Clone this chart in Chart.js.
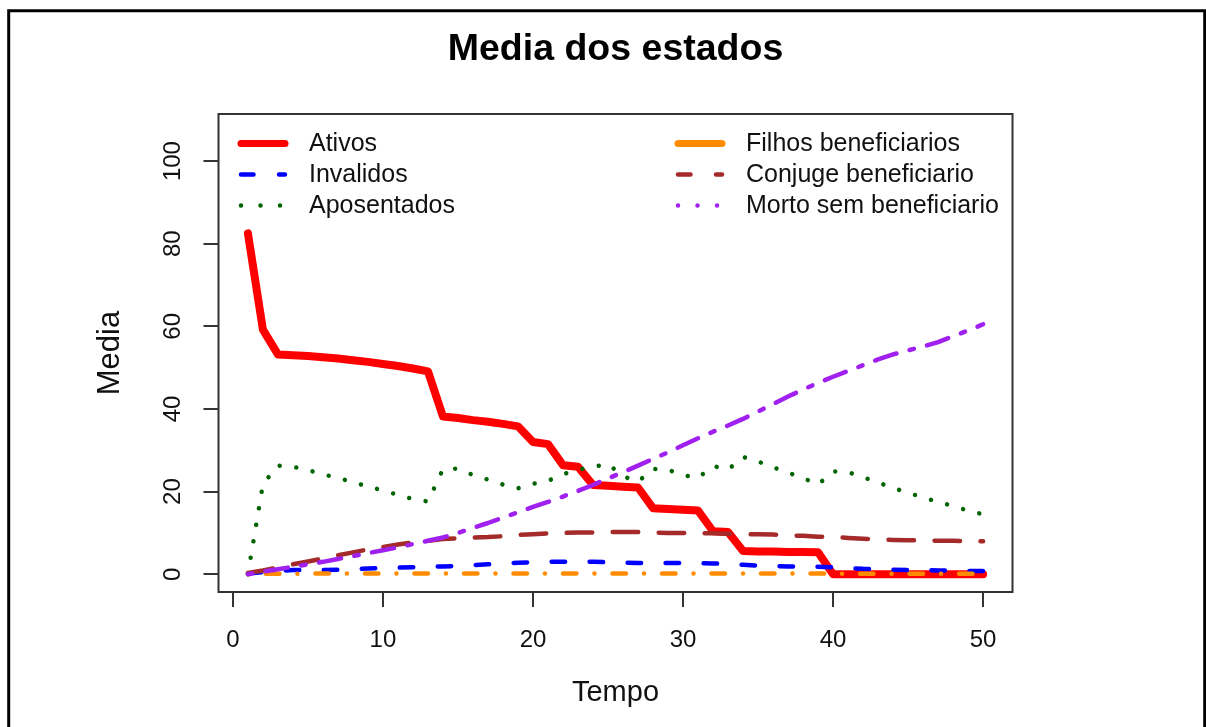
<!DOCTYPE html>
<html>
<head>
<meta charset="utf-8">
<script src="https://cdn.jsdelivr.net/npm/chart.js@4.4.1/dist/chart.umd.min.js"></script>
<style>
html,body{margin:0;padding:0;background:#fff;}
canvas{display:block;}
</style>
</head>
<body>
<canvas id="c" width="1206" height="727"></canvas>
<script>
// ---- data ----
const tempo = [1,2,3,4,5,6,7,8,9,10,11,12,13,14,15,16,17,18,19,20,21,22,23,24,25,26,27,28,29,30,31,32,33,34,35,36,37,38,39,40,41,42,43,44,45,46,47,48,49,50];
const ativos = [82.5,59.2,53.2,53.0,52.8,52.5,52.2,51.8,51.4,50.9,50.4,49.8,49.1,38.2,37.8,37.3,36.9,36.4,35.8,32.0,31.5,26.4,26.0,21.6,21.4,21.2,21.0,16.0,15.8,15.6,15.4,10.4,10.2,5.6,5.5,5.5,5.4,5.4,5.3,0,0,0,0,0,0,0,0,0,0,0];
const invalidos = [0.2,0.5,0.8,1.0,1.0,1.0,1.1,1.2,1.4,1.5,1.6,1.7,1.8,1.9,2.0,2.2,2.4,2.6,2.8,2.9,3.0,3.0,3.0,3.0,2.9,2.8,2.7,2.7,2.7,2.7,2.7,2.6,2.5,2.3,2.1,2.0,1.9,1.8,1.8,1.7,1.5,1.3,1.2,1.1,1.0,1.0,0.9,0.9,0.8,0.8];
const aposentados = [0.0,21.8,26.3,26.0,25.2,24.2,23.3,22.3,21.2,20.3,19.2,18.2,17.6,25.4,25.6,24.0,22.9,21.7,20.8,21.9,22.6,24.2,25.3,26.0,26.7,23.7,22.4,25.5,25.3,24.0,23.3,26.2,25.3,28.4,27.3,25.9,24.6,23.3,21.7,24.9,24.7,23.5,22.2,20.9,19.7,18.6,17.5,16.5,15.4,14.5];
const filhos = [0.0,0.1,0.1,0.1,0.2,0.2,0.2,0.2,0.2,0.2,0.2,0.2,0.2,0.2,0.2,0.2,0.2,0.2,0.2,0.2,0.2,0.2,0.2,0.2,0.2,0.2,0.2,0.2,0.2,0.2,0.2,0.2,0.2,0.2,0.2,0.2,0.2,0.2,0.2,0.1,0.1,0.1,0.1,0.1,0.1,0.1,0.1,0.1,0.1,0.1];
const conjuge = [0.3,0.9,1.6,2.4,3.1,3.8,4.6,5.3,6.0,6.6,7.2,7.7,8.1,8.5,8.7,8.9,9.0,9.2,9.5,9.7,9.9,10.0,10.1,10.1,10.2,10.2,10.2,10.1,10.0,10.0,9.9,9.9,9.8,9.7,9.7,9.6,9.4,9.3,9.1,9.0,8.8,8.6,8.4,8.3,8.2,8.2,8.1,8.1,8.0,8.0];
const morto = [0.0,0.6,1.2,1.8,2.4,3.0,3.7,4.4,5.1,5.8,6.5,7.3,8.1,8.9,10.0,11.2,12.4,13.7,15.0,16.3,17.5,18.8,20.2,21.6,23.2,24.7,26.3,27.9,29.5,31.2,32.9,34.5,36.0,37.6,39.4,41.2,43.0,44.7,46.3,47.8,49.2,50.6,52.0,53.2,54.2,55.1,56.2,57.6,59.0,60.5];
const seriesNames = ["Ativos","Invalidos","Aposentados","Filhos beneficiarios","Conjuge beneficiario","Morto sem beneficiario"];
const xTicks = [0,10,20,30,40,50];
const yTicks = [0,20,40,60,80,100];
const chartTitle = "Media dos estados";
const xTitle = "Tempo";
const yTitle = "Media";

// ---- styles ----
const FONT = "'Liberation Sans', Arial, Helvetica, sans-serif";
const seriesValues = [ativos, invalidos, aposentados, filhos, conjuge, morto];
const seriesStyle = [
  {color:'#FF0000', width:8,   dash:[]},
  {color:'#0000FF', width:4.5, dash:[13.5,24.5]},
  {color:'#006400', width:4.5, dash:[0.01,16.7]},
  {color:'#FF8C00', width:4.5, dash:[0.01,18,13.5,18]},
  {color:'#A52A2A', width:4.5, dash:[25.5,20.5]},
  {color:'#A020F0', width:4.5, dash:[4.5,13.5,22.5,13.5]}
];
// legend line types recycle solid / dashed / dotted as in the original
const legendStyle = [
  {width:7,   dash:[]},
  {width:4.5, dash:[12.5,25.5]},
  {width:4.5, dash:[0.01,19.5]}
];

const datasets = seriesNames.map((name, i) => ({
  label: name,
  data: tempo.map((t, k) => ({x: t, y: seriesValues[i][k]})),
  borderColor: seriesStyle[i].color,
  backgroundColor: seriesStyle[i].color,
  borderWidth: seriesStyle[i].width,
  borderDash: seriesStyle[i].dash,
  borderCapStyle: 'round',
  borderJoinStyle: 'round',
  pointRadius: 0,
  tension: 0,
  fill: false,
  order: seriesNames.length - i
}));

const framePlugin = {
  id: 'frame',
  beforeDraw(chart) {
    const ctx = chart.ctx;
    ctx.save();
    ctx.fillStyle = '#fff';
    ctx.fillRect(0, 0, chart.width, chart.height);
    ctx.strokeStyle = '#000';
    ctx.lineWidth = 3;
    ctx.beginPath();
    ctx.moveTo(8.7, 760);
    ctx.lineTo(8.7, 10.7);
    ctx.lineTo(1204.7, 10.7);
    ctx.lineTo(1204.7, 760);
    ctx.stroke();
    ctx.restore();
  },
  afterDatasetsDraw(chart) {
    const a = chart.chartArea, ctx = chart.ctx;
    ctx.save();
    ctx.strokeStyle = '#333';
    ctx.lineWidth = 2;
    ctx.strokeRect(a.left, a.top, a.right - a.left, a.bottom - a.top);
    ctx.restore();
  }
};

const legendPlugin = {
  id: 'rlegend',
  afterDraw(chart) {
    const ctx = chart.ctx;
    const cols = [{x1: 241, x2: 285, tx: 309}, {x1: 678, x2: 722, tx: 746}];
    const rows = [143.5, 174.5, 205.5];
    chart.data.datasets.forEach((d, i) => {
      const c = cols[Math.floor(i / 3)], y = rows[i % 3], ls = legendStyle[i % 3];
      ctx.save();
      ctx.strokeStyle = d.borderColor;
      ctx.lineWidth = ls.width;
      ctx.lineCap = 'round';
      ctx.setLineDash(ls.dash);
      ctx.beginPath();
      ctx.moveTo(c.x1, y);
      ctx.lineTo(c.x2, y);
      ctx.stroke();
      ctx.setLineDash([]);
      ctx.fillStyle = '#111';
      ctx.font = '25px ' + FONT;
      ctx.textBaseline = 'middle';
      ctx.textAlign = 'left';
      ctx.fillText(d.label, c.tx, y + 1);
      ctx.restore();
    });
  }
};

new Chart(document.getElementById('c'), {
  type: 'line',
  data: { datasets },
  plugins: [framePlugin, legendPlugin],
  options: {
    responsive: false,
    animation: false,
    events: [],
    layout: { padding: { left: 0, top: 0, right: 193.5, bottom: 0 } },
    plugins: {
      legend: { display: false },
      tooltip: { enabled: false },
      title: {
        display: true,
        text: chartTitle,
        fullSize: false,
        color: '#000',
        font: { family: FONT, size: 37.5, weight: 'bold', lineHeight: 1.2 },
        padding: { top: 26.7, bottom: 42.3 }
      }
    },
    scales: {
      x: {
        type: 'linear',
        min: -0.96,
        max: 51.96,
        afterBuildTicks: s => { s.ticks = xTicks.map(v => ({value: v})); },
        afterFit: s => { s.height = 135; s.paddingLeft = 0; s.paddingRight = 0; },
        border: { display: false },
        grid: { drawOnChartArea: false, drawTicks: true, tickLength: 15, color: '#333', lineWidth: 2 },
        ticks: {
          autoSkip: false, maxRotation: 0, minRotation: 0, padding: 18.6,
          color: '#111', font: { family: FONT, size: 24 },
          callback: v => String(v)
        },
        title: {
          display: true, text: xTitle, color: '#111',
          font: { family: FONT, size: 29, lineHeight: 1.2 },
          padding: { top: 0, bottom: 16.2 }
        }
      },
      y: {
        type: 'linear',
        min: -4.3,
        max: 111.4,
        afterBuildTicks: s => { s.ticks = yTicks.map(v => ({value: v})); },
        afterFit: s => { s.width = 218.5; s.paddingTop = 0; s.paddingBottom = 0; },
        border: { display: false },
        grid: { drawOnChartArea: false, drawTicks: true, tickLength: 15, color: '#333', lineWidth: 2 },
        ticks: {
          autoSkip: false, minRotation: 90, maxRotation: 90, crossAlign: 'center', padding: 10.5,
          color: '#111', font: { family: FONT, size: 24 },
          callback: v => String(v)
        },
        title: {
          display: true, text: yTitle, color: '#111',
          font: { family: FONT, size: 31, lineHeight: 1.2 },
          padding: { top: 92, bottom: 0 }
        }
      }
    }
  }
});
</script>
</body>
</html>
